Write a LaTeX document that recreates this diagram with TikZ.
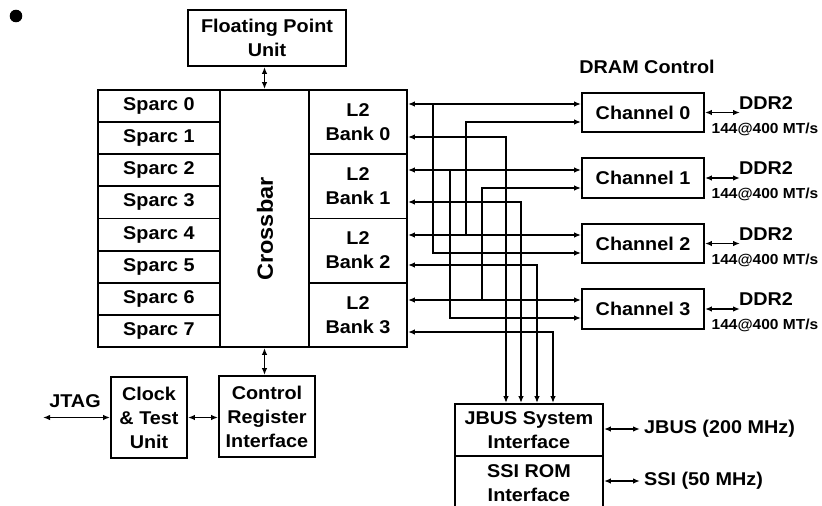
\documentclass[tikz,border=0pt]{standalone}
\usepackage{fontspec}
\setmainfont{Liberation Sans}[FakeStretch=1.07]
\usetikzlibrary{arrows.meta}
\newcommand\mytxt{\fontsize{18.5}{24}\selectfont\bfseries}
\newcommand\mysmall{\fontsize{14.5}{17}\selectfont\bfseries}
\newcommand\myxbar{\fontsize{22}{26}\selectfont\bfseries}
\begin{document}
\begin{tikzpicture}[x=1pt,y=-1pt,
  box/.style={draw, line width=1.9pt, inner sep=0pt, align=center, font=\mytxt},
  lbl/.style={inner sep=0pt, font=\mytxt},
  tip/.tip={Latex[length=7pt,width=5.5pt]},
  wire2/.style={line width=1.5pt, tip-tip},
  wire1/.style={line width=1.5pt, -tip}]
\useasboundingbox (0,0) rectangle (822,506);
\fill (16,16) circle (6.3);

% top unit
\node[box, minimum width=158, minimum height=56] (fpu) at (267,38) {Floating Point\\Unit};

% main block
\foreach \i in {0,...,7}
  \node[box, minimum width=122, minimum height=32.125] (s\i) at (159,{90+32.125*(\i+0.5)}) {Sparc \i};
\node[box, minimum width=89, minimum height=257] (xbar) at (264.5,218.5) {};
\node[inner sep=0pt, font=\myxbar, rotate=90] (xbart) at (265,229) {Crossbar};
\foreach \i in {0,...,3}
  \node[box, minimum width=98, minimum height=64.25] (b\i) at (358,{90+64.25*(\i+0.5)}) {L2\\Bank \i};

% DRAM channels
\node[lbl] (dram) at (647,67) {DRAM Control};
\foreach \i/\y in {0/112.5,1/178,2/243.5,3/309}{
  \node[box, minimum width=122, minimum height=39.5] (c\i) at (643,\y) {Channel \i};
  \coordinate (e\i) at (740,\y);
  \draw[wire2] (c\i.east) -- (e\i);
  \node[lbl] (d\i) at (766,{\y-9.5}) {DDR2};
  \node[inner sep=0pt, font=\mysmall] (r\i) at (765,{\y+16.5}) {144@400 MT/s};
}

% bank upper lines to channels
\foreach \i/\u in {0/104,1/170,2/235,3/300}
  \draw[wire2] (b\i.east |- 0,\u) -- (c\i.west |- 0,\u);

% cross connections into channel lower inputs
\coordinate (j0) at (466,235);
\coordinate (j1) at (482,300);
\coordinate (j2) at (433,104);
\coordinate (j3) at (450,170);
\draw[wire1] (j0) |- (c0.west |- 0,122);
\draw[wire1] (j1) |- (c1.west |- 0,188);
\draw[wire1] (j2) |- (c2.west |- 0,253);
\draw[wire1] (j3) |- (c3.west |- 0,318);

% JBUS / SSI
\node[box, minimum width=148, minimum height=52] (jbus) at (529,430) {JBUS System\\Interface};
\node[box, minimum width=148, minimum height=54] (ssi) at (529,483) {SSI ROM\\Interface};
\node[lbl, anchor=west] (jbl) at (644,429) {JBUS (200 MHz)};
\node[lbl, anchor=west] (ssil) at (644,481) {SSI (50 MHz)};
\draw[wire2] (jbus.east |- 0,429) -- ([xshift=-4pt]jbl.west);
\draw[wire2] (ssi.east |- 0,481) -- ([xshift=-4pt]ssil.west);

% bank lower lines to JBUS
\foreach \i/\l/\x in {0/137/506,1/202/521,2/265/537,3/332/553}
  \draw[wire2] (b\i.east |- 0,\l) -| (jbus.north -| \x,0);

% FPU and control links
\draw[wire2] (fpu.south -| xbar.north) -- (xbar.north);
\node[box, minimum width=96, minimum height=81] (ctrl) at (267,416.5) {Control\\Register\\Interface};
\node[box, minimum width=76, minimum height=81] (clk) at (149,417.5) {Clock\\\& Test\\Unit};
\draw[wire2] (xbar.south) -- (ctrl.north -| xbar.south);
\draw[wire2] (clk.east) -- (clk.east -| ctrl.west);
\coordinate (jt) at (43,417.5);
\draw[wire2] (jt) -- (clk.west);
\node[lbl] (jtag) at (75,401) {JTAG};
\end{tikzpicture}
\end{document}
